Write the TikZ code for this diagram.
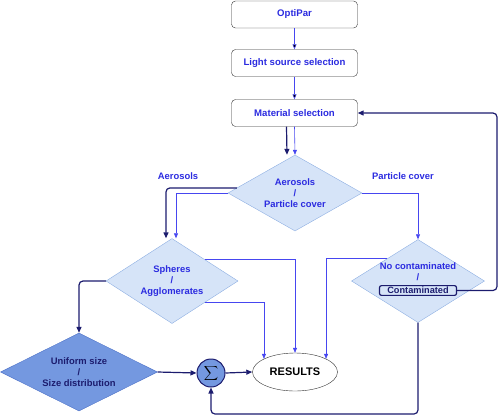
\documentclass[tikz,border=0pt]{standalone}
\usepackage{fontspec}
\setmainfont{Liberation Sans}
\usetikzlibrary{shapes.geometric,arrows.meta}
\definecolor{txtblue}{HTML}{2B2BE0}
\definecolor{lineblue}{HTML}{4646F0}
\definecolor{navy}{HTML}{1C1C6E}
\definecolor{dfill}{HTML}{D6E4F8}
\definecolor{dborder}{HTML}{8DAEE2}
\definecolor{dfilldark}{HTML}{7498E0}
\definecolor{dborderdark}{HTML}{4E72C8}
\begin{document}
\begin{tikzpicture}[x=1pt,y=-1pt,
    box/.style={draw=black!80, rounded corners=4pt, fill=white, minimum width=126pt,
      minimum height=27pt, font=\fontsize{9.6}{11}\selectfont\bfseries, text=txtblue},
    dia/.style={diamond, aspect=1.75, inner sep=0pt, draw=dborder, fill=dfill,
      font=\fontsize{9.4}{11}\selectfont\bfseries, text=txtblue, align=center},
    lbl/.style={font=\fontsize{9.4}{11}\selectfont\bfseries, text=txtblue, align=center},
    bl/.style={draw=lineblue, semithick, -{Triangle[length=5pt,width=4pt]}},
    nv/.style={draw=navy, line width=1.2pt, rounded corners=4pt, -{Triangle[length=6pt,width=5pt]}}]
    \useasboundingbox (0,0) rectangle (500,416);
    % boxes
    \node[box] (opti) at (294.5,14.5) {OptiPar};
    \node[box] (light) at (294.5,63) {Light source selection};
    \node[box] (mat) at (294.5,113) {Material selection};
    % decisions
    \node[dia, minimum width=134pt, minimum height=76pt] (aer) at (295,193) {Aerosols\\/\\Particle cover};
    \node[dia, minimum width=132pt, minimum height=85pt] (sph) at (172,281) {Spheres\\/\\Agglomerates};
    \node[dia, minimum width=133pt, minimum height=83pt] (cont) at (418,281) {};
    \node[lbl] (nocont) at (418,272) {No contaminated\\/};
    \node[draw=navy, line width=1.2pt, rounded corners=2pt, inner sep=1.5pt, minimum width=77pt,
      font=\fontsize{9.2}{11}\selectfont\bfseries, text=navy] (contbox) at (418,290.5) {Contaminated};
    \node[dia, aspect=2, minimum width=157pt, minimum height=78pt, fill=dfilldark, draw=dborderdark,
      text=navy] (uni) at (79,372) {Uniform size\\/\\Size distribution};
    \node[circle, draw=navy, line width=1pt, fill=dfilldark, minimum size=28pt, inner sep=0pt] (sum) at (211,373) {$\displaystyle\sum$};
    \node[ellipse, draw=black!80, fill=white, minimum width=85pt, minimum height=38pt,
      font=\fontsize{11}{13}\selectfont\bfseries] (res) at (295,372) {RESULTS};
    % branch labels
    \node[lbl] (lblaer) at (178,176) {Aerosols};
    \node[lbl] (lblpc) at (403,176) {Particle cover};
    \coordinate (ret) at (497,0);
    \coordinate (low) at (0,414);
    % connectors
    \path[bl] (opti) edge (light);
    \path[bl] (light) edge (mat);
    \draw[bl] (mat.south) -- (aer.north);
    \draw[nv] ([xshift=-8pt]mat.south) -- ([xshift=-8pt]aer.north);
    \draw[nv] (aer.175) -| ([xshift=-6pt]sph.north);
    \draw[bl] (aer.west) -| ([xshift=4pt]sph.north);
    \draw[bl] (aer.east) -| (cont.north);
    \draw[bl] (sph.33) -| (res.north);
    \draw[bl] (sph.-33) -| (res.157);
    \draw[bl] (cont.144) -| (res.23);
    \draw[nv] (sph.west) -| (uni.north);
    \draw[nv] (uni.east) -- (sum.west);
    \draw[nv] (sum.east) -- (res.west);
    \draw[nv] (cont.south) -- (cont.south |- low) -- (sum.south |- low) -- (sum.south);
    \draw[nv] (contbox.east) -- (contbox.east -| ret) -- (mat.east -| ret) -- (mat.east);
\end{tikzpicture}
\end{document}
